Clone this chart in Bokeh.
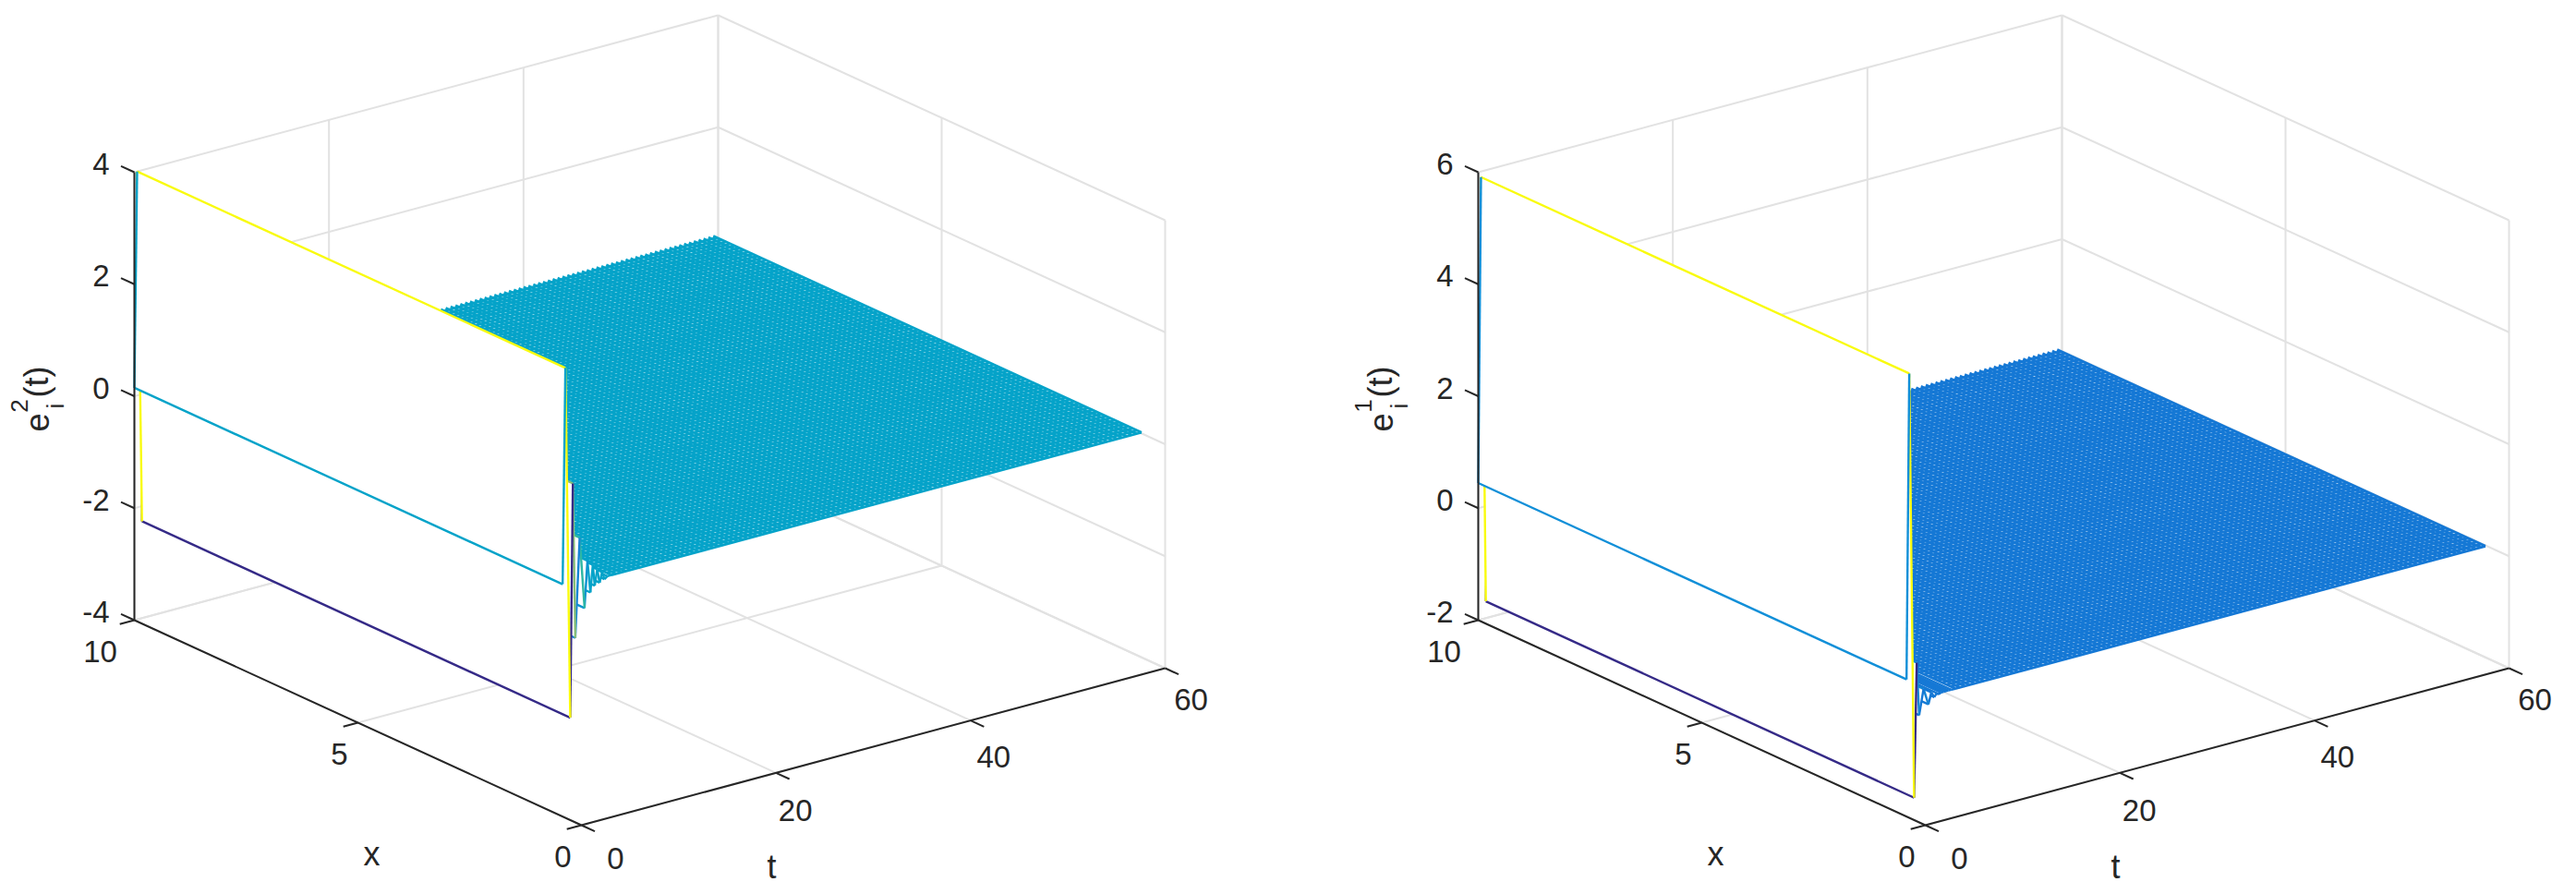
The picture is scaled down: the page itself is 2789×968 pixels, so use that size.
from bokeh.embed import file_html
from bokeh.layouts import row
from bokeh.models import Range1d
from bokeh.plotting import figure
from bokeh.resources import INLINE
import numpy as np

# tick values of the three axes
t_ticks = [0, 20, 40, 60]
x_ticks = [0, 5, 10]
z_ticks_left = [-4, -2, 0, 2, 4]
z_ticks_right = [-2, 0, 2, 4, 6]

# mesh: t columns, the start-up part first
t_head = [0, 0.28, 0.78, 1.05, 1.3, 1.75, 2.25, 2.55, 2.85, 3.1, 3.3, 3.55, 3.8, 4.05, 4.3, 4.6]
z_head_left = [0.15, 4, -2.27, 1.9, -0.87, 0.9, -0.38, 0.45, -0.13, 0.35, -0.03, 0.25, 0.0, 0.18, 0.04, 0.08]
z_head_right = [0.45, 5.9, -1.7, 0.7, -0.25, 0.2, -0.1, 0.1, 0.0, 0.06, 0.03, 0.05, 0.05, 0.05, 0.05, 0.05]
c_head_left = ["#05a3c9", "#f9fb0e", "#352a87", "#87bf77", "#1484d4", "#2eb7a4", "#0a94d0", "#05a3c9",
               "#05a3c9", "#05a3c9", "#05a3c9", "#05a3c9", "#05a3c9", "#05a3c9", "#05a3c9", "#05a3c9"]
c_head_right = ["#118fd8", "#f9fb0e", "#352a87", "#1484d4", "#1578d5", "#1484d4", "#1578d5", "#1578d5",
                "#1578d5", "#1578d5", "#1578d5", "#1578d5", "#1578d5", "#1578d5", "#1578d5", "#1578d5"]
t_tail = list(np.arange(5.0, 59.51, 0.5))
z_tail_left = 0.08
z_tail_right = 0.05
x_end = 0.42
x_mesh = list(np.arange(x_end, 10.001, 0.1))

W = 2773
H = 958
Z_TOP = 485.0

# label offsets from the tick, the middle labels sit closer to their ticks
T_LABEL_SHIFT = {0: (37, 36), 20: (21, 41), 40: (25, 39), 60: (28, 34)}


def make_panel(x_min, x_max, ox, zticks, t_h, z_h, c_h, z_tail, plane_color, ylabel_sup):
    p = figure(width=x_max - x_min, height=H, output_backend="svg", toolbar_location=None,
               x_range=Range1d(x_min, x_max), y_range=Range1d(H, 0),
               x_axis_type=None, y_axis_type=None, min_border=0, outline_line_color=None)
    p.grid.visible = False
    zlo, zhi = zticks[0], zticks[-1]

    # projection of (t, x, z) onto the page
    def proj(t, x, z):
        t, x, z = np.asarray(t, float), np.asarray(x, float), np.asarray(z, float)
        sx = ox + 484.0 * (10 - x) / 10 + 632.0 * t / 60
        sy = 893.0 - 170.0 * t / 60 - 222.0 * x / 10 - Z_TOP * (z - zlo) / (zhi - zlo)
        return sx, sy

    def seg(t, x, z, **kw):
        sx, sy = proj(t, x, z)
        p.line(list(sx), list(sy), **kw)

    grid = dict(line_color="#e2e2e2", line_width=2)
    for t in t_ticks:
        seg([t, t], [0, 10], [zlo, zlo], **grid)
        seg([t, t], [10, 10], [zlo, zhi], **grid)
    for x in x_ticks:
        seg([0, 60], [x, x], [zlo, zlo], **grid)
        seg([60, 60], [x, x], [zlo, zhi], **grid)
    for z in zticks:
        seg([0, 60], [10, 10], [z, z], **grid)
        seg([60, 60], [0, 10], [z, z], **grid)

    # flat tail of the mesh, far end first
    corner_t = [t_tail[0], t_tail[-1], t_tail[-1], t_tail[0]]
    corner_x = [x_end, x_end, 10, 10]
    sx, sy = proj(corner_t, corner_x, [z_tail] * 4)
    p.patch(list(sx), list(sy), fill_color="white", line_color=None)
    xs, ys = [], []
    for t in t_tail:
        sx, sy = proj([t, t], [x_end, 10], [z_tail, z_tail])
        xs.append(list(sx))
        ys.append(list(sy))
    for x in x_mesh:
        sx, sy = proj([t_tail[0], t_tail[-1]], [x, x], [z_tail, z_tail])
        xs.append(list(sx))
        ys.append(list(sy))
    p.multi_line(xs, ys, line_color=plane_color, line_width=2.8)

    # start-up part of the mesh, painted from the back to the front
    tt = t_h + [t_tail[0]]
    zz = z_h + [z_tail]
    cc = c_h + [plane_color]
    for i in range(len(t_h) - 1, -1, -1):
        sx, sy = proj([tt[i], tt[i + 1], tt[i + 1], tt[i]], [x_end, x_end, 10, 10],
                      [zz[i], zz[i + 1], zz[i + 1], zz[i]])
        p.patch(list(sx), list(sy), fill_color="white", line_color=None)
        seg([tt[i + 1], tt[i + 1]], [x_end, 10], [zz[i + 1], zz[i + 1]], line_color=cc[i + 1], line_width=2.4)
        seg([tt[i], tt[i + 1]], [x_end, x_end], [zz[i], zz[i + 1]], line_color=cc[i], line_width=2.4)
        seg([tt[i], tt[i + 1]], [10, 10], [zz[i], zz[i + 1]], line_color=cc[i], line_width=2.4)
    seg([tt[0], tt[0]], [x_end, 10], [zz[0], zz[0]], line_color=cc[0], line_width=2.4)

    # axes and ticks, the ticks point outwards
    axis = dict(line_color="#262626", line_width=2)
    seg([0, 0], [0, 10], [zlo, zlo], **axis)
    seg([0, 60], [0, 0], [zlo, zlo], **axis)
    seg([0, 0], [10, 10], [zlo, zhi], **axis)
    label = dict(text_color="#262626", text_font_size="33px", text_font={"value": "Liberation Sans"},
                 text_baseline="middle")
    for t in t_ticks:
        seg([t, t], [0, -0.3], [zlo, zlo], **axis)
        sx, sy = proj(t, 0, zlo)
        dx, dy = T_LABEL_SHIFT[t]
        p.text([float(sx) + dx], [float(sy) + dy], text=[str(t)], text_align="center", **label)
    for x in x_ticks:
        seg([0, -1.5], [x, x], [zlo, zlo], **axis)
        sx, sy = proj(0, x, zlo)
        dx = 37 if x == 10 else 20
        p.text([float(sx) - dx], [float(sy) + 34], text=[str(x)], text_align="center", **label)
    for z in zticks:
        seg([0, 0], [10, 10.3], [z, z], **axis)
        sx, sy = proj(0, 10, z)
        p.text([float(sx) - 27], [float(sy) - 9], text=[str(z)], text_align="right", **label)

    # axis titles
    title = dict(text_color="#262626", text_font={"value": "Liberation Sans"}, text_baseline="middle",
                 text_align="center")
    sx, sy = proj(0, 5, zlo)
    p.text([float(sx) + 15], [float(sy) + 142], text=["x"], text_font_size="36px", **title)
    sx, sy = proj(30, 0, zlo)
    p.text([float(sx) - 110], [float(sy) + 130], text=["t"], text_font_size="36px", **title)
    lx = ox - 106
    p.text([lx], [457], text=["e"], text_font_size="36px", angle=90, angle_units="deg", **title)
    p.text([lx - 19], [439], text=[ylabel_sup], text_font_size="26px", angle=90, angle_units="deg", **title)
    p.text([lx + 20], [439], text=["i"], text_font_size="26px", angle=90, angle_units="deg", **title)
    p.text([lx], [413], text=["(t)"], text_font_size="36px", angle=90, angle_units="deg", **title)
    return p


left = make_panel(0, 1392, 145.0, z_ticks_left, t_head, z_head_left, c_head_left, z_tail_left, "#05a3c9", "2")
right = make_panel(1392, W, 1600.0, z_ticks_right, t_head, z_head_right, c_head_right, z_tail_right, "#1578d5", "1")
page = row(left, right, spacing=0)
open("out.html", "w").write(file_html(page, INLINE))
